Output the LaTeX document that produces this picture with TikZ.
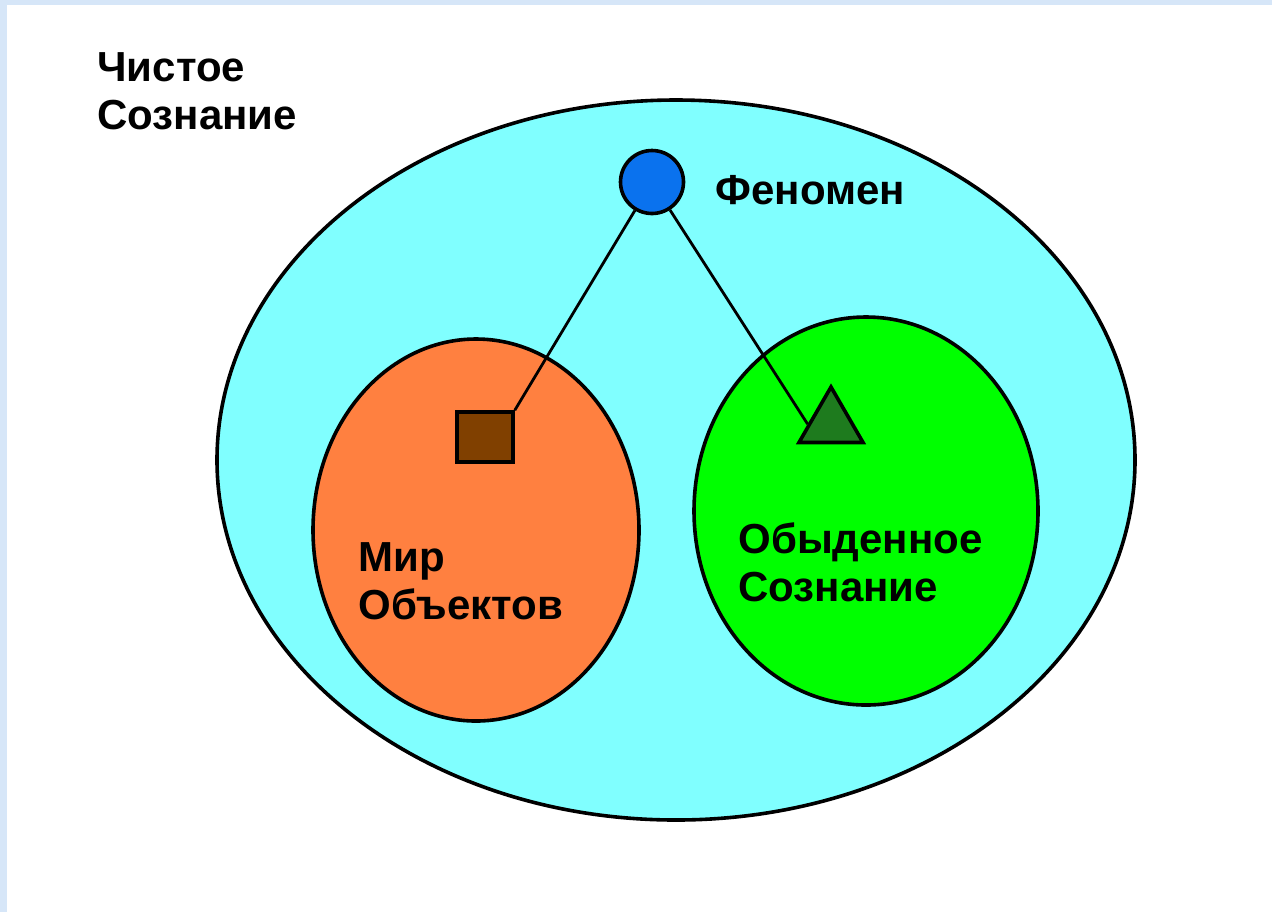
\documentclass[tikz,border=0pt]{standalone}
\usepackage{fontspec}
\setmainfont{Liberation Sans}
\usetikzlibrary{shapes.geometric}

\definecolor{pureblue}{HTML}{80FFFF}
\definecolor{worldorange}{HTML}{FF8040}
\definecolor{dailygreen}{HTML}{00FF00}
\definecolor{phenblue}{HTML}{0A72EE}
\definecolor{objbrown}{HTML}{804000}
\definecolor{tridark}{HTML}{1E7B1E}
\definecolor{frameblue}{HTML}{D6E6F8}

\begin{document}
\begin{tikzpicture}[x=0.5pt,y=-0.5pt,
  outl/.style={draw=black,line width=1.8pt},
  lbl/.style={inner sep=0pt,anchor=north west,align=left,
    font=\bfseries\fontsize{21}{24}\selectfont}]

  \useasboundingbox (0,0) rectangle (1272,912);

  %% frame strips
  \fill[frameblue] (0,0) rectangle (7,912);
  \fill[frameblue] (0,0) rectangle (1272,5);

  %% the three ovals
  \node[outl,ellipse,fill=pureblue,minimum width=459pt,minimum height=360pt] (pure) at (676,460) {};
  \node[outl,ellipse,fill=worldorange,minimum width=163pt,minimum height=191pt] (world) at (476,530) {};
  \node[outl,ellipse,fill=dailygreen,minimum width=172pt,minimum height=194pt] (daily) at (866,511) {};

  %% small figures
  \node[outl,circle,fill=phenblue,minimum size=31.5pt,inner sep=0pt] (phen) at (652,182) {};
  \node[outl,rectangle,fill=objbrown,minimum width=28pt,minimum height=25pt,inner sep=0pt] (obj) at (485,437) {};
  \node[outl,regular polygon,regular polygon sides=3,fill=tridark,minimum size=37pt,inner sep=0pt] (tri) at (831,424) {};

  %% links
  \draw[line width=1.4pt] (phen) -- (obj.north east);
  \draw[line width=1.4pt] (phen) -- (tri.west);

  %% labels
  \node[lbl] (pureLbl) at (97,52) {Чистое\\Сознание};
  \node[lbl] (phenLbl) at (715,175) {Феномен};
  \node[lbl] (worldLbl) at (358,542) {Мир\\Объектов};
  \node[lbl] (dailyLbl) at (738,522) {Обыденное\\Сознание};

\end{tikzpicture}
\end{document}
